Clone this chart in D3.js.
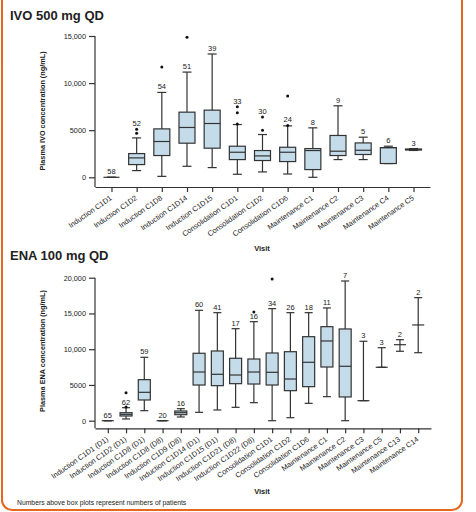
<!DOCTYPE html>
<html>
<head>
<meta charset="utf-8">
<script src="https://cdn.jsdelivr.net/npm/d3@7"></script>
<style>
  body { margin: 0; background: #fff; }
  svg text { font-family: "Liberation Sans", Arial, sans-serif; fill: #222; }
</style>
</head>
<body>
<div id="chart"></div>
<script>
// IVO 500 mg QD
var ivoVisits = ["Induction C1D1", "Induction C1D2", "Induction C1D8", "Induction C1D14", "Induction C1D15",
    "Consolidation C1D1", "Consolidation C1D2", "Consolidation C1D6",
    "Maintenance C1", "Maintenance C2", "Maintenance C3", "Maintenance C4", "Maintenance C5"];
var ivoN   = [58, 52, 54, 51, 39, 33, 30, 24, 8, 9, 5, 6, 3];
var ivoMin = [0, 710, 100, 1170, 1030, 320, 570, 350, 0, 1880, 1880, 1460, 2850];
var ivoQ1  = [0, 1350, 2310, 3620, 3090, 1880, 1780, 1670, 820, 2310, 2420, 1460, 2900];
var ivoMed = [0, 2060, 3800, 5290, 5710, 2660, 2270, 2660, 2840, 2770, 2870, 3150, 2950];
var ivoQ3  = [0, 2520, 5140, 6915, 7130, 3300, 2840, 3190, 3050, 4440, 3650, 3150, 3000];
var ivoMax = [0, 4180, 9010, 11170, 13090, 5600, 4540, 5460, 5250, 7590, 4260, 3300, 3050];
var ivoOut = [[], [4680, 5100], [11700], [14860], [], [5650, 6840, 7480], [5000, 6400], [5500, 8620], [], [], [], [], []];
var ivoTicks = [0, 5000, 10000, 15000];

// ENA 100 mg QD
var enaVisits = ["Induction C1D1 (D1)", "Induction C1D2 (D1)", "Induction C1D8 (D1)", "Induction C1D8 (D8)",
    "Induction C1D9 (D8)", "Induction C1D14 (D1)", "Induction C1D15 (D1)", "Induction C1D21 (D8)",
    "Induction C1D22 (D8)", "Consolidation C1D1", "Consolidation C1D2", "Consolidation C1D6",
    "Maintenance C1", "Maintenance C2", "Maintenance C3", "Maintenance C5", "Maintenance C13", "Maintenance C14"];
var enaN   = [65, 62, 59, 20, 16, 60, 41, 17, 16, 34, 26, 18, 11, 7, 3, 3, 2, 2];
var enaMin = [0, 240, 1400, 0, 520, 1170, 1500, 1870, 2520, 0, 420, 2430, 3360, 0, 2800, 7470, 9710, 9510];
var enaQ1  = [0, 660, 2900, 0, 840, 4990, 4900, 5180, 5130, 4990, 4200, 4760, 7510, 3320, 2800, 7470, 10630, 13390];
var enaMed = [0, 890, 3970, 0, 1120, 6810, 6490, 6390, 6810, 6770, 5830, 8170, 11150, 7610, 2800, 7470, 10630, 13390];
var enaQ3  = [0, 1120, 5740, 0, 1360, 9430, 9750, 8730, 8630, 9470, 9650, 11750, 13150, 12830, 2800, 7470, 10630, 13390];
var enaMax = [0, 1820, 8870, 0, 1680, 15440, 15110, 12870, 13850, 15670, 15110, 15110, 15770, 19540, 11110, 10210, 11330, 17210];
var enaOut = [[], [1900, 3920], [], [], [], [], [], [], [15200], [19820], [], [], [], [], [], [], [], []];
var enaTicks = [0, 5000, 10000, 15000, 20000];

var W = 476, H = 512;
var svg = d3.select("#chart").append("svg").attr("width", W).attr("height", H);

// orange frame, top edge runs off the picture
svg.append("rect")
    .attr("x", 2).attr("y", -20).attr("width", 460).attr("height", 530)
    .attr("rx", 10)
    .attr("fill", "none").attr("stroke", "#e8671e").attr("stroke-width", 2);

function tickFmt(d) { return d >= 10000 ? d3.format(",")(d) : String(d); }

function drawPanel(p) {
    var g = svg.append("g");

    g.append("text").attr("x", 10).attr("y", p.titleY)
        .style("font-size", "13px").style("font-weight", "bold").text(p.title);

    var y = d3.scaleLinear().domain([0, p.ticks[p.ticks.length - 1]]).range([p.y0, p.yTop]);
    var x = d3.scalePoint().domain(p.visits).range([95, p.xRight]).padding(p.pad);

    // y axis
    var ya = g.append("g").attr("transform", "translate(95,0)")
        .call(d3.axisLeft(y).tickValues(p.ticks).tickFormat(tickFmt).tickSize(6).tickSizeOuter(0));
    ya.select(".domain").remove();
    ya.selectAll("line").attr("stroke", "#333").attr("stroke-width", 1.2);
    ya.selectAll("text").style("font-size", "7.3px").style("fill", "#222").attr("x", -9);
    g.append("line").attr("x1", 95).attr("x2", 95).attr("y1", y(p.ticks[p.ticks.length - 1]))
        .attr("y2", p.axisY).attr("stroke", "#333").attr("stroke-width", 1.2);

    // x axis
    var xa = g.append("g").attr("transform", "translate(0," + p.axisY + ")")
        .call(d3.axisBottom(x).tickSize(5).tickSizeOuter(0));
    xa.select(".domain").attr("stroke", "#333").attr("stroke-width", 1.2);
    xa.selectAll("line").attr("stroke", "#333").attr("stroke-width", 1.2);
    xa.selectAll("text")
        .attr("x", 0).attr("y", 0).attr("dy", "0.35em")
        .attr("transform", "translate(-1,10) rotate(-35)")
        .style("text-anchor", "end").style("font-size", "7.4px").style("fill", "#222");

    g.append("text").attr("x", 262).attr("y", p.visitY).attr("text-anchor", "middle")
        .style("font-size", "7.5px").style("font-weight", "bold").text("Visit");

    g.append("text").attr("transform", "translate(45," + p.yLabelY + ") rotate(-90)")
        .attr("text-anchor", "middle").style("font-size", "7.3px").style("font-weight", "bold")
        .text(p.yLabel);

    var stroke = "#333";
    p.visits.forEach(function(v, i) {
        var cx = x(v);
        var bg = g.append("g");
        bg.append("line").attr("x1", cx).attr("x2", cx)
            .attr("y1", y(p.max[i])).attr("y2", y(p.min[i]))
            .attr("stroke", stroke).attr("stroke-width", 1.2);
        [p.min[i], p.max[i]].forEach(function(val) {
            bg.append("line").attr("x1", cx - p.cw / 2).attr("x2", cx + p.cw / 2)
                .attr("y1", y(val)).attr("y2", y(val))
                .attr("stroke", stroke).attr("stroke-width", 1.2);
        });
        bg.append("rect").attr("x", cx - p.bw / 2).attr("width", p.bw)
            .attr("y", y(p.q3[i])).attr("height", y(p.q1[i]) - y(p.q3[i]))
            .attr("fill", "#c4dce9").attr("stroke", stroke).attr("stroke-width", 1.2);
        bg.append("line").attr("x1", cx - p.bw / 2).attr("x2", cx + p.bw / 2)
            .attr("y1", y(p.med[i])).attr("y2", y(p.med[i]))
            .attr("stroke", stroke).attr("stroke-width", 1.2);
        p.out[i].forEach(function(o) {
            bg.append("circle").attr("cx", cx).attr("cy", y(o)).attr("r", 1.5).attr("fill", "#111");
        });
        // count label sits over the whisker and any outliers that hug it
        var top = y(p.max[i]);
        p.out[i].slice().sort(d3.ascending).forEach(function(o) {
            if (y(o) < top && top - y(o) <= p.hug) top = y(o);
        });
        bg.append("text").attr("x", cx).attr("y", top - 3).attr("text-anchor", "middle")
            .style("font-size", "7.5px").text(p.n[i]);
    });
}

drawPanel({
    title: "IVO 500 mg QD", titleY: 20,
    visits: ivoVisits, n: ivoN, min: ivoMin, q1: ivoQ1, med: ivoMed, q3: ivoQ3, max: ivoMax, out: ivoOut,
    ticks: ivoTicks, y0: 177.3, yTop: 36, axisY: 187, xRight: 430, pad: 0.655,
    bw: 16, cw: 9, hug: 20,
    visitY: 251, yLabel: "Plasma IVO concentration (ng/mL)", yLabelY: 111
});

drawPanel({
    title: "ENA 100 mg QD", titleY: 260,
    visits: enaVisits, n: enaN, min: enaMin, q1: enaQ1, med: enaMed, q3: enaQ3, max: enaMax, out: enaOut,
    ticks: enaTicks, y0: 420.7, yTop: 277.7, axisY: 428.3, xRight: 431, pad: 0.7,
    bw: 12, cw: 8, hug: 0,
    visitY: 494, yLabel: "Plasma ENA concentration (ng/mL)", yLabelY: 351
});

svg.append("text").attr("x", 17).attr("y", 505)
    .style("font-size", "6.8px").text("Numbers above box plots represent numbers of patients");
</script>
</body>
</html>
